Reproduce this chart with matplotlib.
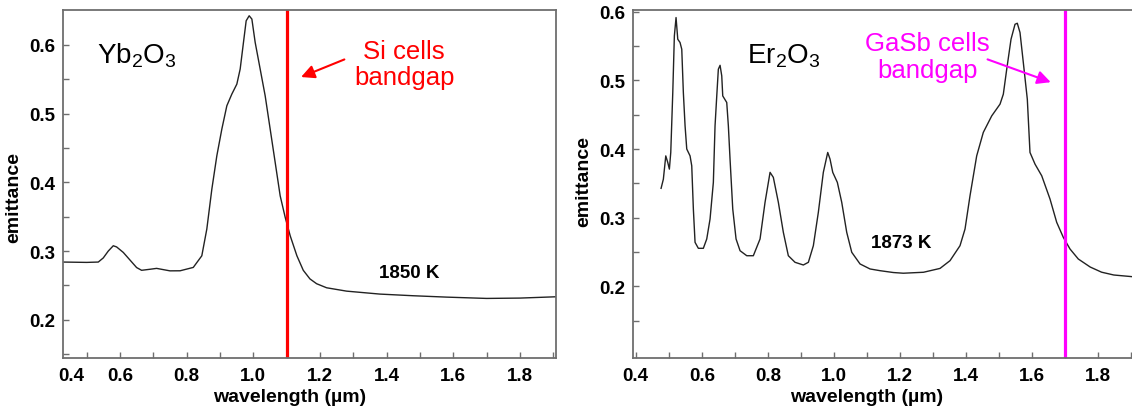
"""
Emittance spectra of Yb2O3 and Er2O3 selective emitters,
with the bandgap of the matching PV cell marked on each panel.
"""

import matplotlib
matplotlib.use("Agg")
import matplotlib.pyplot as plt
from matplotlib.ticker import FixedLocator, MultipleLocator

plt.rcParams["font.family"] = ["Liberation Sans", "DejaVu Sans"]
plt.rcParams["mathtext.fontset"] = "custom"
plt.rcParams["mathtext.rm"] = "Liberation Sans"
plt.rcParams["mathtext.default"] = "regular"

# ---------------------------------------------------------------------------
# Data
# ---------------------------------------------------------------------------

yb_wavelength = [
    0.43, 0.50, 0.535, 0.55, 0.565, 0.58, 0.59, 0.61, 0.63, 0.65,
    0.665, 0.69, 0.71, 0.73, 0.75, 0.7804, 0.820, 0.8456, 0.8606, 0.8757,
    0.8907, 0.9057, 0.9207, 0.9357, 0.9507, 0.9607, 0.9706, 0.9787, 0.9877, 0.9958,
    1.0057, 1.0207, 1.0357, 1.0507, 1.0657, 1.0807, 1.0958, 1.1108, 1.1309, 1.15,
    1.17, 1.19, 1.22, 1.28, 1.38, 1.48, 1.58, 1.70, 1.80, 1.908,
]
yb_emittance = [
    0.284, 0.2835, 0.284, 0.290, 0.300, 0.3077, 0.306, 0.298, 0.287, 0.276,
    0.272, 0.2735, 0.2748, 0.273, 0.2712, 0.2713, 0.2762, 0.2931, 0.3319, 0.390,
    0.4386, 0.4774, 0.5113, 0.5283, 0.5428, 0.5647, 0.6035, 0.6349, 0.6422, 0.6374,
    0.6035, 0.5647, 0.5258, 0.4774, 0.429, 0.3804, 0.349, 0.3222, 0.2931, 0.272,
    0.2595, 0.2525, 0.2466, 0.2417, 0.2374, 0.235, 0.233, 0.2311, 0.2316, 0.2335,
]

er_wavelength = [
    0.4769, 0.4838, 0.4911, 0.4971, 0.502, 0.5062, 0.5123, 0.5171, 0.5222, 0.5274,
    0.5343, 0.5395, 0.5443, 0.5495, 0.5546, 0.5646, 0.5697, 0.5746, 0.5797, 0.5897,
    0.6048, 0.6151, 0.6251, 0.6351, 0.6402, 0.6454, 0.6502, 0.6554, 0.6605, 0.6635,
    0.6756, 0.6805, 0.6856, 0.6938, 0.7038, 0.7159, 0.7362, 0.7561, 0.7764, 0.7915,
    0.8067, 0.8166, 0.8318, 0.8469, 0.862, 0.8823, 0.9074, 0.9226, 0.9377, 0.9528,
    0.9679, 0.9812, 0.9882, 0.9964, 1.0103, 1.0236, 1.0387, 1.0539, 1.079, 1.1093,
    1.1396, 1.18, 1.21, 1.271, 1.321, 1.3513, 1.3815, 1.3967, 1.4118, 1.432,
    1.452, 1.4775, 1.5026, 1.5126, 1.5229, 1.5359, 1.548, 1.5549, 1.5631, 1.5731,
    1.5852, 1.5933, 1.6085, 1.6288, 1.6539, 1.6741, 1.6941, 1.7144, 1.7395, 1.7756,
    1.81, 1.847, 1.902,
]
er_emittance = [
    0.3427, 0.356, 0.390, 0.3805, 0.3707, 0.395, 0.4824, 0.5648, 0.5916, 0.560,
    0.5552, 0.5454, 0.4824, 0.4338, 0.400, 0.390, 0.3755, 0.3125, 0.264, 0.2553,
    0.2553, 0.2689, 0.298, 0.3514, 0.4338, 0.4774, 0.5163, 0.522, 0.5066, 0.4774,
    0.4678, 0.4338, 0.3853, 0.3125, 0.2689, 0.2518, 0.2445, 0.2445, 0.2689, 0.3223,
    0.366, 0.3587, 0.3223, 0.2786, 0.2445, 0.2349, 0.231, 0.2349, 0.2591, 0.3077,
    0.366, 0.395, 0.3853, 0.366, 0.3514, 0.3223, 0.2786, 0.2495, 0.2325, 0.2252,
    0.2227, 0.2200, 0.219, 0.2204, 0.226, 0.2373, 0.2591, 0.2834, 0.3319, 0.390,
    0.4242, 0.4483, 0.4654, 0.4799, 0.5163, 0.560, 0.5818, 0.5833, 0.5697, 0.526,
    0.4726, 0.395, 0.378, 0.361, 0.3271, 0.2932, 0.2713, 0.2543, 0.2397, 0.228,
    0.2205, 0.2164, 0.214,
]

si_bandgap = 1.1     # µm
gasb_bandgap = 1.7   # µm

x_ticks = [0.6, 0.8, 1.0, 1.2, 1.4, 1.6, 1.8]
y_ticks = [0.2, 0.3, 0.4, 0.5, 0.6]
y_minor_ticks = [0.15, 0.25, 0.35, 0.45, 0.55]

SPINE_GREY = "#6e6e6e"
CURVE = "#222222"
MAGENTA = "#ff00ff"
RED = "#ff0000"
TICK_SIZE = 13.5


def style_axes(ax):
    for side in ("left", "bottom", "top", "right"):
        ax.spines[side].set_color(SPINE_GREY)
        ax.spines[side].set_linewidth(1.3)
    ax.xaxis.set_minor_locator(MultipleLocator(0.1))
    ax.yaxis.set_minor_locator(FixedLocator(y_minor_ticks))
    ax.tick_params(which="both", direction="in", length=4, width=1,
                   color=SPINE_GREY, labelsize=TICK_SIZE, pad=6)
    ax.tick_params(which="both", top=False, right=False)
    for lbl in ax.get_xticklabels() + ax.get_yticklabels():
        lbl.set_fontweight("bold")
    ax.set_xlabel("wavelength (µm)", fontsize=14, fontweight="bold")
    ax.set_ylabel("emittance", fontsize=14, fontweight="bold")


fig = plt.figure(figsize=(11.32, 4.14), dpi=100)

# ---------------------------------------------------------------------------
# Left panel: Yb2O3 against Si cells
# ---------------------------------------------------------------------------
ax1 = fig.add_axes([0.0559, 0.1321, 0.4352, 0.842])
ax1.plot(yb_wavelength, yb_emittance, color=CURVE, lw=1.0)
ax1.axvline(si_bandgap, color=RED, lw=2.3)
ax1.set_xlim(0.43, 1.908)
ax1.set_ylim(0.144, 0.651)
ax1.set_xticks(x_ticks)
ax1.set_yticks(y_ticks)
style_axes(ax1)
# the "0.4" label of the original sits just inside the axis start
ax1.annotate("0.4", xy=(0.455, 0), xycoords=("data", "axes fraction"),
             xytext=(0, -6), textcoords="offset points", ha="center", va="top",
             fontsize=TICK_SIZE, fontweight="bold")
ax1.xaxis.set_label_coords(0.46, -0.085)
ax1.yaxis.set_label_coords(-0.084, 0.463)

ax1.text(0.53, 0.5744, "Yb$_2$O$_3$", fontsize=20, ha="left", va="baseline")
ax1.text(1.453, 0.609, "Si cells\nbandgap", color=RED, fontsize=18.5,
         ha="center", va="top", linespacing=1.15)
ax1.annotate("", xy=(1.1357, 0.5516), xytext=(1.281, 0.5802),
             arrowprops=dict(arrowstyle="-|>", color=RED, lw=1.5, mutation_scale=20))
ax1.text(1.468, 0.2617, "1850 K", fontsize=TICK_SIZE, fontweight="bold",
         ha="center", va="baseline")

# ---------------------------------------------------------------------------
# Right panel: Er2O3 against GaSb cells
# ---------------------------------------------------------------------------
ax2 = fig.add_axes([0.5595, 0.1321, 0.4405, 0.842])
ax2.plot(er_wavelength, er_emittance, color=CURVE, lw=1.0)
ax2.axvline(gasb_bandgap, color=MAGENTA, lw=2.3)
ax2.set_xlim(0.393, 1.902)
ax2.set_ylim(0.095, 0.603)
ax2.set_xticks([0.4] + x_ticks)
ax2.set_yticks(y_ticks)
style_axes(ax2)
ax2.spines["right"].set_visible(False)
ax2.xaxis.set_label_coords(0.467, -0.085)
ax2.yaxis.set_label_coords(-0.083, 0.509)

ax2.text(0.736, 0.526, "Er$_2$O$_3$", fontsize=20, ha="left", va="baseline")
ax2.text(1.283, 0.572, "GaSb cells\nbandgap", color=MAGENTA, fontsize=18.5,
         ha="center", va="top", linespacing=1.15)
ax2.annotate("", xy=(1.664, 0.496), xytext=(1.457, 0.532),
             arrowprops=dict(arrowstyle="-|>", color=MAGENTA, lw=1.5, mutation_scale=20))
ax2.text(1.203, 0.2568, "1873 K", fontsize=TICK_SIZE, fontweight="bold",
         ha="center", va="baseline")

fig.savefig("out.png", dpi=100)
